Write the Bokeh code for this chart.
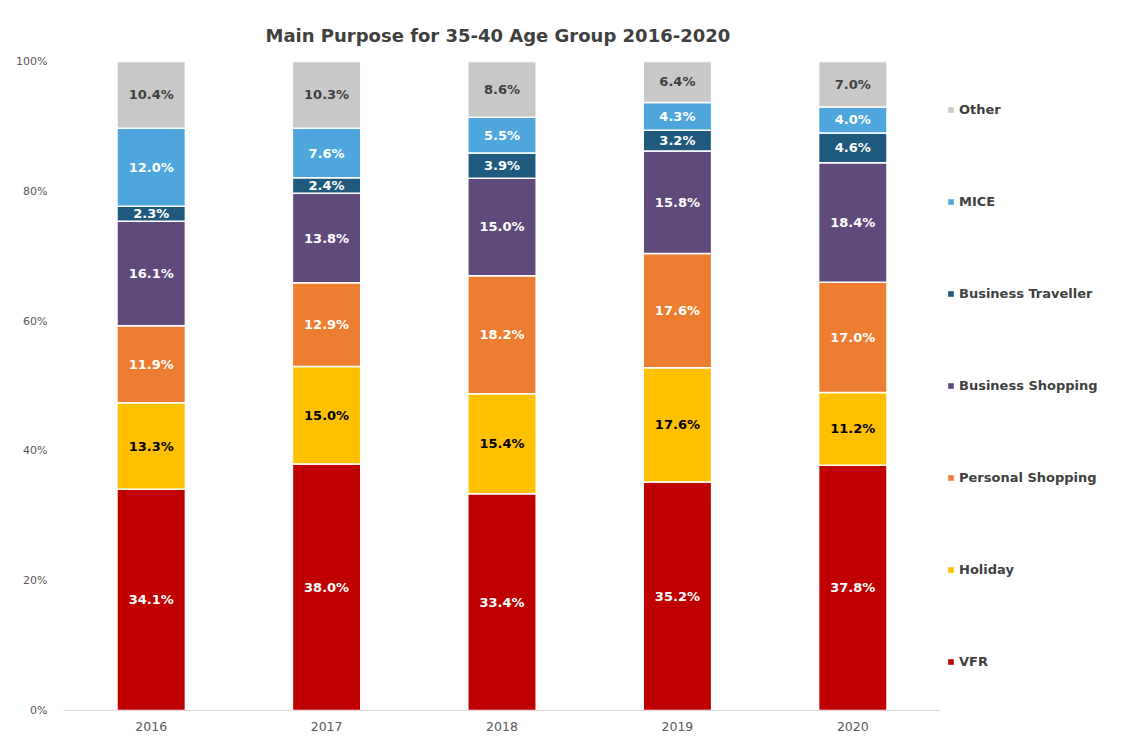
import numpy as np
from bokeh.plotting import figure
from bokeh.layouts import row
from bokeh.models import (ColumnDataSource, Legend, LegendItem, PrintfTickFormatter,
                          FixedTicker, Range1d, FactorRange)
from bokeh.core.properties import value
from bokeh.embed import file_html
from bokeh.resources import INLINE

years = ["2016", "2017", "2018", "2019", "2020"]
series = ["VFR", "Holiday", "Personal Shopping", "Business Shopping",
          "Business Traveller", "MICE", "Other"]
vfr = [34.1, 38.0, 33.4, 35.2, 37.8]
holiday = [13.3, 15.0, 15.4, 17.6, 11.2]
personal_shopping = [11.9, 12.9, 18.2, 17.6, 17.0]
business_shopping = [16.1, 13.8, 15.0, 15.8, 18.4]
business_traveller = [2.3, 2.4, 3.9, 3.2, 4.6]
mice = [12.0, 7.6, 5.5, 4.3, 4.0]
other = [10.4, 10.3, 8.6, 6.4, 7.0]

colors = ["#C00000", "#FFC000", "#ED7D31", "#604A7B", "#1F5A7E", "#4EA6DC", "#C8C8C8"]
label_colors = ["#FFFFFF", "#000000", "#FFFFFF", "#FFFFFF", "#FFFFFF", "#FFFFFF", "#404040"]

all_vals = [vfr, holiday, personal_shopping, business_shopping, business_traveller, mice, other]
keys = ["s%d" % i for i in range(len(series))]
data = {"year": years}
for k, v in zip(keys, all_vals):
    data[k] = v
source = ColumnDataSource(data)

FONT = "DejaVu Sans"

p = figure(x_range=years, y_range=Range1d(0, 100), width=940, height=741,
           output_backend="svg", toolbar_location=None,
           min_border_left=63, min_border_right=0, min_border_top=61, min_border_bottom=31)
p.outline_line_color = None
p.grid.grid_line_color = None
p.background_fill_color = "white"
p.border_fill_color = "white"

renderers = p.vbar_stack(keys, x="year", width=0.39, source=source, color=colors,
                         line_color="white", line_width=1.5)

# data labels
arr = np.array(all_vals, dtype=float)
cum = np.cumsum(arr, axis=0)
centers = cum - arr / 2.0
for i in range(len(series)):
    src = ColumnDataSource(dict(x=years, y=list(centers[i]),
                                t=["%.1f%%" % v for v in all_vals[i]]))
    p.text(x="x", y="y", text="t", source=src, text_align="center", text_baseline="middle",
           text_font=value(FONT), text_font_style="bold", text_font_size="13px",
           text_color=label_colors[i])

# title
p.title.text = "Main Purpose for 35-40 Age Group 2016-2020"
p.title.align = "left"
p.title.offset = 202
p.title.text_font = FONT
p.title.text_font_size = "18px"
p.title.text_font_style = "bold"
p.title.text_color = "#404040"
p.title.standoff = 32

# axes
p.xaxis.axis_line_color = "#D9D9D9"
p.xaxis.axis_line_width = 1.2
p.xaxis.major_tick_line_color = None
p.xaxis.minor_tick_line_color = None
p.xaxis.major_label_text_font = FONT
p.xaxis.major_label_text_font_size = "12.5px"
p.xaxis.major_label_text_color = "#595959"
p.xaxis.major_label_standoff = 5

p.yaxis.axis_line_color = None
p.yaxis.major_tick_line_color = None
p.yaxis.minor_tick_line_color = None
p.yaxis.ticker = FixedTicker(ticks=[0, 20, 40, 60, 80, 100])
p.yaxis.formatter = PrintfTickFormatter(format="%d%%")
p.yaxis.major_label_text_font = FONT
p.yaxis.major_label_text_font_size = "11px"
p.yaxis.major_label_text_color = "#595959"
p.yaxis.major_label_standoff = 10

# legend panel as a separate figure to the right (its zero-width bars draw nothing)
q = figure(width=198, height=741, x_range=FactorRange(*years), y_range=Range1d(101, 200),
           output_backend="svg", toolbar_location=None,
           min_border_left=0, min_border_right=0, min_border_top=0, min_border_bottom=0)
q.outline_line_color = None
q.xaxis.visible = False
q.yaxis.visible = False
q.xgrid.visible = False
q.ygrid.visible = False
q.border_fill_color = "white"
q.background_fill_color = "white"
legend_renderers = q.vbar_stack(keys, x="year", width=0.0, source=source, color=colors,
                                line_color=None)

items = [LegendItem(label=series[i], renderers=[legend_renderers[i]]) for i in range(len(series))][::-1]
legend = Legend(items=items, location=(7, 39), orientation="vertical",
                glyph_width=7, glyph_height=7, label_height=20, spacing=72,
                label_standoff=5, padding=0, margin=0,
                label_text_font=FONT, label_text_font_style="bold",
                label_text_font_size="13px", label_text_color="#404040",
                border_line_color=None, background_fill_alpha=0)
q.add_layout(legend, "center")

layout = row(p, q, spacing=0)
open("out.html", "w").write(file_html(layout, INLINE))
